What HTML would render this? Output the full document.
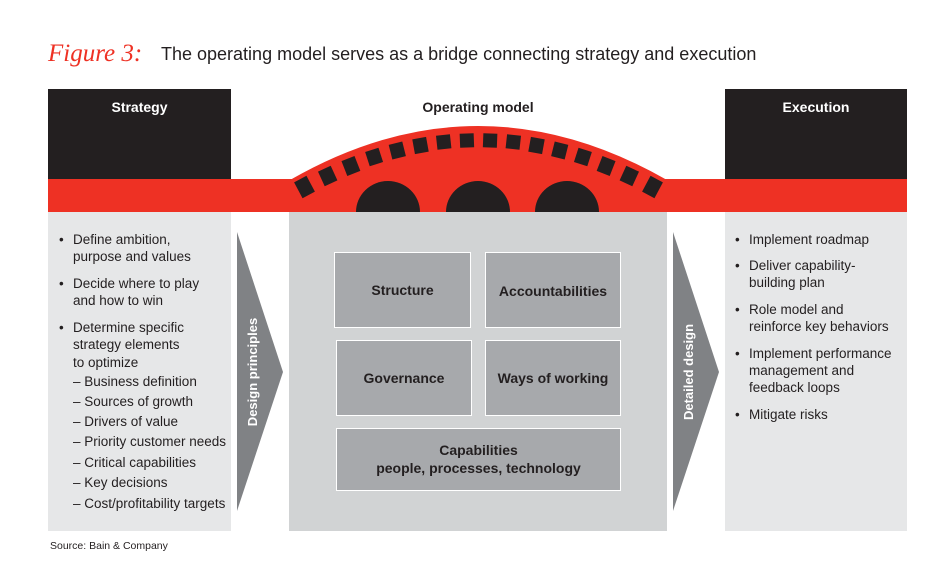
<!DOCTYPE html>
<html><head><meta charset="utf-8"><style>
body{margin:0;background:#fff;}
svg{display:block;}
text{font-family:"Liberation Sans",sans-serif;fill:#231f20;}
.b{font-size:13.5px;}
.h{font-size:14px;font-weight:bold;}
</style></head><body>
<svg width="950" height="585" viewBox="0 0 950 585" xmlns="http://www.w3.org/2000/svg">
<text x="48" y="61" style="font-family:'Liberation Serif',serif;font-style:italic;font-size:25px;fill:#ee3124">Figure 3:</text>
<text x="161" y="60" style="font-size:18px">The operating model serves as a bridge connecting strategy and execution</text>

<rect x="48" y="89" width="183" height="91" fill="#231f20"/>
<rect x="725" y="89" width="182" height="91" fill="#231f20"/>
<rect x="48" y="179" width="859" height="33" fill="#ee3124"/>
<text x="139.5" y="112" class="h" text-anchor="middle" style="fill:#fff">Strategy</text>
<text x="816" y="112" class="h" text-anchor="middle" style="fill:#fff">Execution</text>
<text x="478" y="112" class="h" text-anchor="middle">Operating model</text>

<path d="M290,212 L290,180 Q478,72 667,180 L667,212 Z" fill="#ee3124"/>
<g fill="#231f20">
<rect x="-7" y="-9" width="14" height="18" transform="translate(304.5,187) rotate(-28)"/>
<rect x="-7" y="-8" width="14" height="16" transform="translate(327.7,176) rotate(-24.8)"/>
<rect x="-7" y="-8" width="14" height="16" transform="translate(350.9,166) rotate(-21.4)"/>
<rect x="-7" y="-7.5" width="14" height="15" transform="translate(374.1,157) rotate(-17.8)"/>
<rect x="-7" y="-7.5" width="14" height="15" transform="translate(397.3,150.5) rotate(-14.1)"/>
<rect x="-7" y="-7.5" width="14" height="15" transform="translate(420.5,145.5) rotate(-10.2)"/>
<rect x="-7" y="-7" width="14" height="14" transform="translate(443.7,142) rotate(-6.2)"/>
<rect x="-7" y="-7" width="14" height="14" transform="translate(466.9,140.5) rotate(-2.2)"/>
<rect x="-7" y="-7" width="14" height="14" transform="translate(490.1,140.5) rotate(2.2)"/>
<rect x="-7" y="-7" width="14" height="14" transform="translate(513.3,142) rotate(6.2)"/>
<rect x="-7" y="-7.5" width="14" height="15" transform="translate(536.5,145.5) rotate(10.2)"/>
<rect x="-7" y="-7.5" width="14" height="15" transform="translate(559.7,150.5) rotate(14.1)"/>
<rect x="-7" y="-7.5" width="14" height="15" transform="translate(582.9,157) rotate(17.8)"/>
<rect x="-7" y="-8" width="14" height="16" transform="translate(606.1,166) rotate(21.4)"/>
<rect x="-7" y="-8" width="14" height="16" transform="translate(629.3,176) rotate(24.8)"/>
<rect x="-7" y="-9" width="14" height="18" transform="translate(652.5,187) rotate(28)"/>
<path d="M356,212 A32,31 0 0 1 420,212 Z"/>
<path d="M446,212 A32,31 0 0 1 510,212 Z"/>
<path d="M535,212 A32,31 0 0 1 599,212 Z"/>
</g>

<rect x="48" y="212" width="183" height="319" fill="#e6e7e8"/>
<rect x="725" y="212" width="182" height="319" fill="#e6e7e8"/>
<rect x="289" y="212" width="378" height="319" fill="#d1d3d4"/>

<polygon points="237,232 283,372 237,511" fill="#808285"/>
<polygon points="673,232 719,372 673,511" fill="#808285"/>
<text transform="translate(257,372) rotate(-90)" text-anchor="middle" style="font-size:13px;font-weight:bold;fill:#fff">Design principles</text>
<text transform="translate(693,372) rotate(-90)" text-anchor="middle" style="font-size:13px;font-weight:bold;fill:#fff">Detailed design</text>

<g fill="#a7a9ac" stroke="#fff" stroke-width="1">
<rect x="334.5" y="252.5" width="136" height="75"/>
<rect x="485.5" y="252.5" width="135" height="75"/>
<rect x="336.5" y="340.5" width="135" height="75"/>
<rect x="485.5" y="340.5" width="135" height="75"/>
<rect x="336.5" y="428.5" width="284" height="62"/>
</g>
<text x="402.5" y="295" class="h" text-anchor="middle">Structure</text>
<text x="553" y="296" class="h" text-anchor="middle">Accountabilities</text>
<text x="404" y="383" class="h" text-anchor="middle">Governance</text>
<text x="553" y="383" class="h" text-anchor="middle">Ways of working</text>
<text x="478.5" y="455" class="h" text-anchor="middle">Capabilities</text>
<text x="478.5" y="473" class="h" text-anchor="middle">people, processes, technology</text>

<g class="b">
<text x="59" y="244" class="b">•</text><text x="73" y="244" class="b">Define ambition,</text>
<text x="73" y="261" class="b">purpose and values</text>
<text x="59" y="288" class="b">•</text><text x="73" y="288" class="b">Decide where to play</text>
<text x="73" y="305" class="b">and how to win</text>
<text x="59" y="332" class="b">•</text><text x="73" y="332" class="b">Determine specific</text>
<text x="73" y="349" class="b">strategy elements</text>
<text x="73" y="367" class="b">to optimize</text>
<text x="73" y="386" class="b">– Business definition</text>
<text x="73" y="406" class="b">– Sources of growth</text>
<text x="73" y="426" class="b">– Drivers of value</text>
<text x="73" y="446" class="b">– Priority customer needs</text>
<text x="73" y="467" class="b">– Critical capabilities</text>
<text x="73" y="487" class="b">– Key decisions</text>
<text x="73" y="508" class="b">– Cost/profitability targets</text>

<text x="735" y="244" class="b">•</text><text x="749" y="244" class="b">Implement roadmap</text>
<text x="735" y="270" class="b">•</text><text x="749" y="270" class="b">Deliver capability-</text>
<text x="749" y="287" class="b">building plan</text>
<text x="735" y="314" class="b">•</text><text x="749" y="314" class="b">Role model and</text>
<text x="749" y="331" class="b">reinforce key behaviors</text>
<text x="735" y="358" class="b">•</text><text x="749" y="358" class="b">Implement performance</text>
<text x="749" y="375" class="b">management and</text>
<text x="749" y="392" class="b">feedback loops</text>
<text x="735" y="419" class="b">•</text><text x="749" y="419" class="b">Mitigate risks</text>
</g>
<text x="50" y="549" style="font-size:10.5px">Source: Bain &amp; Company</text>
</svg>
</body></html>
